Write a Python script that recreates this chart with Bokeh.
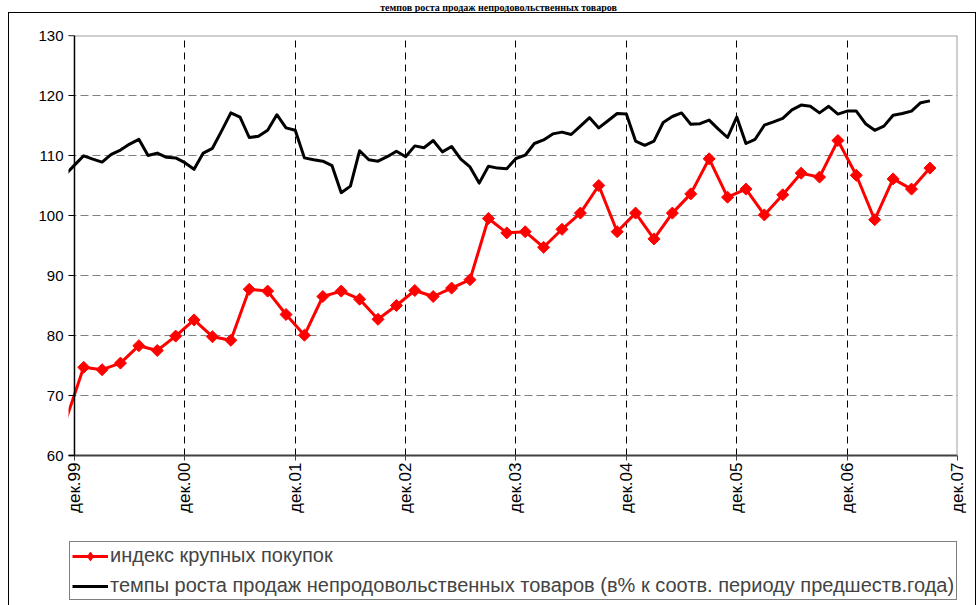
from math import pi
from bokeh.plotting import figure
from bokeh.layouts import column
from bokeh.models import (Range1d, FixedTicker, Span, Legend, LegendItem, Label)
from bokeh.embed import file_html
from bokeh.resources import INLINE

# ---------------- data ----------------
title_text = "темпов роста продаж непродовольственных товаров"

year_ticks = [0, 12, 24, 36, 48, 60, 72, 84, 96]
year_labels = ["дек.99", "дек.00", "дек.01", "дек.02", "дек.03",
               "дек.04", "дек.05", "дек.06", "дек.07"]
y_ticks = [60, 70, 80, 90, 100, 110, 120, 130]

# month index: 0 = дек.99 ; monthly series from ноя.99 to сен.07
black_months = list(range(-1, 94))
black_values = [
    106.8, 108.4, 109.95, 109.4, 108.9, 110.2, 110.9, 111.9, 112.7, 110.0,
    110.4, 109.7, 109.6, 108.8, 107.7, 110.4, 111.2, 114.1, 117.1, 116.4,
    113.0, 113.2, 114.2, 116.8, 114.6, 114.2, 109.6, 109.3, 109.05, 108.3,
    103.8, 104.9, 110.8, 109.3, 109.05, 109.8, 110.7, 109.8, 111.6, 111.3,
    112.5, 110.6, 111.5, 109.4, 108.1, 105.4, 108.2, 107.9, 107.8, 109.5,
    110.05, 112.0, 112.6, 113.6, 113.9, 113.5, 114.9, 116.3, 114.6, 115.8,
    117.0, 116.9, 112.4, 111.7, 112.4, 115.5, 116.5, 117.1, 115.2, 115.3,
    115.9, 114.4, 113.0, 116.4, 112.0, 112.7, 115.05, 115.6, 116.2, 117.6,
    118.4, 118.2, 117.1, 118.2, 116.9, 117.4, 117.4, 115.3, 114.2, 114.9,
    116.7, 117.0, 117.4, 118.8, 119.1,
]

# bimonthly series from ноя.99 to сен.07
red_months = list(range(-1, 94, 2))
red_values = [
    65.6,
    74.7, 74.3, 75.4, 78.3, 77.5, 79.9,
    82.6, 79.8, 79.2, 87.7, 87.4, 83.5,
    80.05, 86.5, 87.4, 86.05, 82.7, 85.0,
    87.5, 86.5, 87.9, 89.3, 99.5, 97.1,
    97.3, 94.7, 97.7, 100.4, 105.0, 97.3,
    100.4, 96.1, 100.4, 103.6, 109.45, 103.05,
    104.4, 100.1, 103.45, 107.05, 106.4, 112.5,
    106.7, 99.3, 106.1, 104.4, 107.9,
]

red_name = "индекс крупных покупок"
black_name = ("темпы роста продаж непродовольственных товаров "
              "(в% к соотв. периоду предшеств.года)")

FONT = "Liberation Sans"
W = 976
X_RANGE = (-0.65, 96)

# ---------------- title strip ----------------
t = figure(width=W, height=12, x_range=Range1d(*X_RANGE), y_range=Range1d(0, 1),
           output_backend="svg", toolbar_location=None,
           x_axis_location=None, y_axis_location=None,
           min_border_left=68, min_border_right=19,
           min_border_top=0, min_border_bottom=0)
t.grid.visible = False
t.outline_line_color = None
t.background_fill_color = None
t.border_fill_color = None
t.styles = {"background": "#ffffff"}
t.add_layout(Label(x=46.1, y=0, text=title_text, text_align="center",
                   text_baseline="bottom", text_font="Liberation Serif",
                   text_font_style="bold", text_font_size="10px",
                   text_color="black"))

# ---------------- main figure ----------------
p = figure(width=W, height=518,
           x_range=Range1d(*X_RANGE), y_range=Range1d(60, 130),
           output_backend="svg", toolbar_location=None,
           min_border_left=68, min_border_right=19,
           min_border_top=23, min_border_bottom=75)
p.outline_line_color = None
p.background_fill_color = "white"
p.border_fill_color = None
p.styles = {
    "background": ("linear-gradient(#000,#000) 8px 0 / 968px 1px no-repeat, "
                   "linear-gradient(#000,#000) 8px 0 / 1px 100% no-repeat, "
                   "linear-gradient(#000,#000) 975px 0 / 1px 100% no-repeat, "
                   "#ffffff"),
}

# grids
p.xgrid.ticker = FixedTicker(ticks=year_ticks[1:-1])
p.xgrid.grid_line_color = "black"
p.xgrid.grid_line_dash = "7 5"
p.xgrid.grid_line_width = 1
p.ygrid.ticker = FixedTicker(ticks=y_ticks[1:-1])
p.ygrid.grid_line_color = "#808080"
p.ygrid.grid_line_dash = "8 4"
p.ygrid.grid_line_width = 1

# borders of plot area
p.add_layout(Span(location=130, dimension="width", line_color="#a0a0a0", line_width=2))
p.add_layout(Span(location=96, dimension="height", line_color="#a0a0a0", line_width=2))
p.add_layout(Span(location=0, dimension="height", line_color="black", line_width=1.5))

# y axis
p.yaxis.ticker = FixedTicker(ticks=y_ticks)
p.yaxis.axis_line_color = None
p.yaxis.major_tick_in = 6
p.yaxis.major_tick_out = 0
p.yaxis.minor_tick_line_color = None
p.yaxis.major_tick_line_color = "black"
p.yaxis.major_label_standoff = 5
p.yaxis.major_label_text_font = FONT
p.yaxis.major_label_text_font_size = "15px"
p.yaxis.major_label_text_color = "black"

# x axis
p.xaxis.ticker = FixedTicker(ticks=year_ticks)
p.xaxis.major_label_overrides = {tk: lb for tk, lb in zip(year_ticks, year_labels)}
p.xaxis.major_label_orientation = pi / 2
p.xaxis.axis_line_color = "#404040"
p.xaxis.axis_line_width = 2
p.xaxis.major_tick_in = 0
p.xaxis.major_tick_out = 5
p.xaxis.major_tick_line_color = "#404040"
p.xaxis.minor_tick_line_color = None
p.xaxis.major_label_standoff = 2
p.xaxis.major_label_text_font = FONT
p.xaxis.major_label_text_font_size = "17px"
p.xaxis.major_label_text_color = "black"

# series
p.line(black_months, black_values, line_color="black", line_width=3,
       line_join="round")
p.line(red_months, red_values, line_color="red", line_width=3,
       line_join="round")
p.scatter(red_months[1:], red_values[1:], marker="square", angle=pi / 4,
          size=8.5, fill_color="red", line_color="red")

# ---------------- legend strip ----------------
q = figure(width=W, height=75, x_range=Range1d(0, 1), y_range=Range1d(0, 1),
           output_backend="svg", toolbar_location=None,
           x_axis_location=None, y_axis_location=None,
           min_border_left=68, min_border_right=19,
           min_border_top=0, min_border_bottom=0)
q.grid.visible = False
q.outline_line_color = None
q.background_fill_color = None
q.border_fill_color = None
q.styles = {
    "background": ("linear-gradient(#000,#000) 8px 0 / 1px 100% no-repeat, "
                   "linear-gradient(#000,#000) 975px 0 / 1px 100% no-repeat, "
                   "#ffffff"),
}
# legend swatches only (data kept outside the visible range)
lr = q.line(x=[5, 6], y=[5, 6], line_color="red", line_width=3)
ls = q.scatter(x=[5], y=[5], marker="diamond", size=13,
               fill_color="red", line_color="red")
lb = q.line(x=[5, 6], y=[5, 6], line_color="black", line_width=3)

legend = Legend(items=[LegendItem(label=red_name, renderers=[lr, ls]),
                       LegendItem(label=black_name, renderers=[lb])],
                location=(1, 5), margin=0, padding=2, spacing=7,
                glyph_width=36, glyph_height=22, label_height=22,
                label_standoff=2, label_text_font=FONT,
                label_text_font_size="20px",
                border_line_color="black", border_line_width=1,
                background_fill_color="white", background_fill_alpha=1)
q.add_layout(legend)

layout = column(t, p, q, spacing=0)
open("out.html", "w").write(file_html(layout, INLINE))
